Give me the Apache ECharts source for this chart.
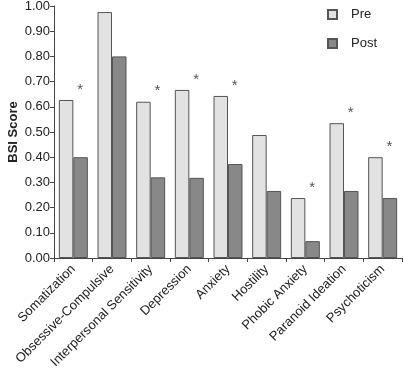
<!DOCTYPE html>
<html><head><meta charset="utf-8">
<script src="https://cdn.jsdelivr.net/npm/echarts@6/dist/echarts.min.js"></script>
<style>html,body{margin:0;padding:0;background:#fff}#c{width:404px;height:372px}</style>
</head><body><div id="c"></div>
<script>
var categories = ['Somatization','Obsessive-Compulsive','Interpersonal Sensitivity','Depression','Anxiety','Hostility','Phobic Anxiety','Paranoid Ideation','Psychoticism'];
var preValues = [0.627, 0.976, 0.62, 0.667, 0.643, 0.488, 0.238, 0.535, 0.40];
var postValues = [0.40, 0.80, 0.32, 0.318, 0.373, 0.266, 0.067, 0.266, 0.238];
var significant = [true, false, true, true, true, false, true, true, true];
var yTicks = ['0.00','0.10','0.20','0.30','0.40','0.50','0.60','0.70','0.80','0.90','1.00'];

var chart = echarts.init(document.getElementById('c'));
var font = 'Liberation Sans, Arial, sans-serif';
chart.setOption({
  animation: false,
  textStyle: {fontFamily: font},
  grid: {left: 54, right: 2, top: 6, bottom: 114, containLabel: false, outerBoundsMode: 'none'},
  legend: {
    orient: 'vertical', left: 322, top: 3, itemWidth: 9, itemHeight: 9, itemGap: 16, icon: 'rect',
    textStyle: {fontSize: 13, color: '#222', fontFamily: font, padding: [0,0,0,9]},
    data: ['Pre','Post']
  },
  xAxis: {
    type: 'category', data: categories,
    axisLine: {lineStyle: {color: '#444'}},
    axisTick: {show: true, alignWithLabel: false, length: 4, lineStyle: {color: '#444'}},
    axisLabel: {rotate: 45, interval: 0, fontSize: 13, color: '#222', margin: 9, fontFamily: font}
  },
  yAxis: {
    type: 'value', min: 0, max: 1, interval: 0.1,
    name: 'BSI Score', nameLocation: 'middle', nameGap: 34, nameMoveOverlap: false,
    nameTextStyle: {fontSize: 13, fontWeight: 'bold', color: '#222', fontFamily: font},
    splitLine: {show: false},
    axisLine: {show: true, lineStyle: {color: '#444'}},
    axisTick: {show: true, length: 4, lineStyle: {color: '#444'}},
    axisLabel: {fontSize: 13, color: '#222', margin: 4, fontFamily: font,
      formatter: function (v) { return yTicks[Math.round(v * 10)]; }}
  },
  series: [
    {
      name: 'Pre', type: 'bar', data: preValues.map(function (v, i) {
        return {value: v, label: {show: significant[i]}};
      }),
      barGap: '0%', barCategoryGap: '25%',
      itemStyle: {color: '#e2e2e2', borderColor: '#555', borderWidth: 1},
      label: {position: 'top', formatter: '*', offset: [14, 2], fontSize: 15, color: '#555', fontFamily: font}
    },
    {
      name: 'Post', type: 'bar', data: postValues,
      itemStyle: {color: '#888888', borderColor: '#555', borderWidth: 1}
    }
  ]
});
</script></body></html>
